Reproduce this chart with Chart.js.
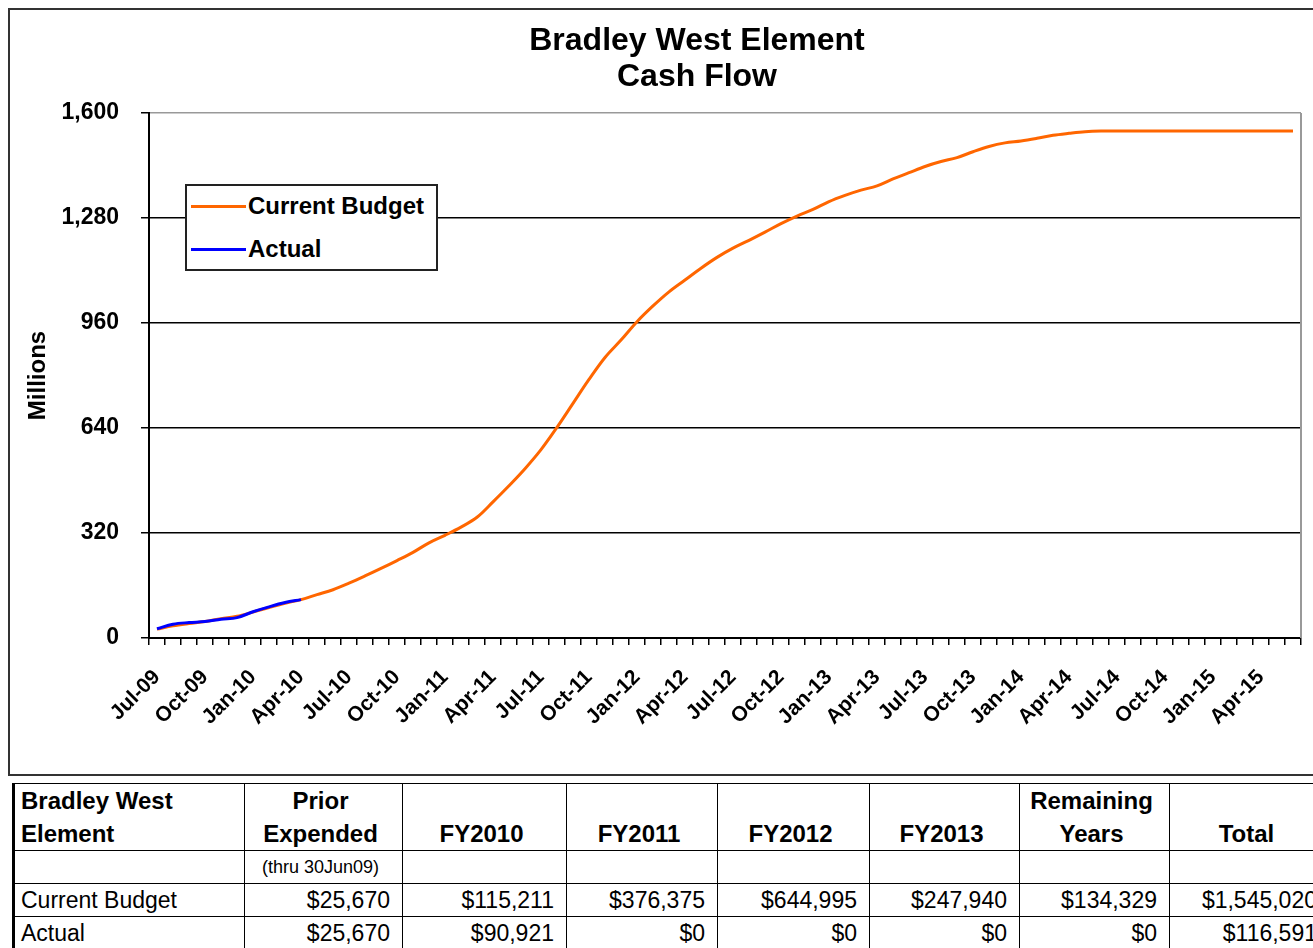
<!DOCTYPE html>
<html><head><meta charset="utf-8">
<script src="https://cdn.jsdelivr.net/npm/chart.js@4.4.0/dist/chart.umd.min.js"></script>
<style>
html,body{margin:0;padding:0;background:#fff;overflow:hidden;width:1313px;height:948px;font-family:"Liberation Sans",Arial,sans-serif;}
#frame{position:absolute;left:8px;top:8px;width:1340px;height:768px;border:2px solid #333;box-sizing:border-box;}
#wrap{position:absolute;left:0;top:0;width:1313px;height:778px;}
#legend{position:absolute;left:185px;top:184px;width:253px;height:87px;border:2px solid #222;background:#fff;box-sizing:border-box;}
.li{position:absolute;left:4px;height:30px;display:flex;align-items:center;font-weight:bold;font-size:24px;color:#000;}
.li span.sw{display:inline-block;width:55px;height:3px;margin-right:2px;}
table{position:absolute;left:12px;top:783px;border-collapse:collapse;table-layout:fixed;color:#000;}
td{border:1.5px solid #000;padding:0 12px 0 6px;font-size:23px;white-space:nowrap;overflow:hidden;}
tr.h td{height:65px;font-weight:bold;text-align:center;vertical-align:bottom;line-height:33px;padding-bottom:0;font-size:24px;}
tr.h td:first-child{text-align:left;}
tr.s td{height:32px;font-size:18px;text-align:center;}
tr.d td{height:32px;text-align:right;}
tr.d td:first-child{text-align:left;}
td:first-child{border-left:3px solid #000;}
</style></head>
<body>
<div id="frame"></div>
<div id="wrap"><canvas id="c"></canvas></div>
<div id="legend"></div>
<table id="tbl"></table>
<script>
const categories = ["Jul-09","Aug-09","Sep-09","Oct-09","Nov-09","Dec-09","Jan-10","Feb-10","Mar-10","Apr-10","May-10","Jun-10",
"Jul-10","Aug-10","Sep-10","Oct-10","Nov-10","Dec-10","Jan-11","Feb-11","Mar-11","Apr-11","May-11","Jun-11",
"Jul-11","Aug-11","Sep-11","Oct-11","Nov-11","Dec-11","Jan-12","Feb-12","Mar-12","Apr-12","May-12","Jun-12",
"Jul-12","Aug-12","Sep-12","Oct-12","Nov-12","Dec-12","Jan-13","Feb-13","Mar-13","Apr-13","May-13","Jun-13",
"Jul-13","Aug-13","Sep-13","Oct-13","Nov-13","Dec-13","Jan-14","Feb-14","Mar-14","Apr-14","May-14","Jun-14",
"Jul-14","Aug-14","Sep-14","Oct-14","Nov-14","Dec-14","Jan-15","Feb-15","Mar-15","Apr-15","May-15","Jun-15"];
const tickLabels = ["Jul-09","Oct-09","Jan-10","Apr-10","Jul-10","Oct-10","Jan-11","Apr-11","Jul-11","Oct-11","Jan-12","Apr-12",
"Jul-12","Oct-12","Jan-13","Apr-13","Jul-13","Oct-13","Jan-14","Apr-14","Jul-14","Oct-14","Jan-15","Apr-15"];
const currentBudget = [27,37,44,50,59,66,79,93,106,117,132,147,
167,189,212,236,261,290,313,338,368,415,464,516,
574,642,715,788,855,908,964,1012,1055,1091,1127,1160,
1188,1212,1237,1263,1286,1306,1330,1349,1365,1378,1399,1418,
1437,1452,1464,1482,1498,1509,1515,1523,1532,1538,1543,1545,
1545,1545,1545,1545,1545,1545,1545,1545,1545,1545,1545,1545];
const actual = [28,42,47,50,57,62,80,95,108,117];
const yTicks = [0,320,640,960,1280,1600];

const tableHeader = ["Bradley West<br>Element","Prior<br>Expended","FY2010","FY2011","FY2012","FY2013","Remaining<br>Years","Total"];
const tableSub = ["","(thru 30Jun09)","","","","","",""];
const budgetRow = ["Current Budget","$25,670","$115,211","$376,375","$644,995","$247,940","$134,329","$1,545,020"];
const actualRow = ["Actual","$25,670","$90,921","$0","$0","$0","$0","$116,591"];
const colWidths = [231,158,164,151,152,150,150,160];

const FONT = "'Liberation Sans', Arial, sans-serif";

const plotFrame = {id:'plotFrame',
  afterLayout(c){ if (c.titleBlock) { c.titleBlock.left = 2*697 - c.titleBlock.right; } },
  afterDatasetsDraw(c){
    const {ctx, chartArea:a} = c;
    ctx.save(); ctx.strokeStyle='#999'; ctx.lineWidth=2;
    ctx.beginPath(); ctx.moveTo(a.right, a.top); ctx.lineTo(a.right, a.bottom); ctx.stroke();
    ctx.restore();
  }};

const chart = new Chart(document.getElementById('c'), {
  type:'line',
  data:{labels:categories, datasets:[
    {label:'Current Budget', data:currentBudget, borderColor:'#FF6600', backgroundColor:'#FF6600', borderWidth:3, pointRadius:0, tension:0.35, order:1},
    {label:'Actual', data:actual, borderColor:'#0000FF', backgroundColor:'#0000FF', borderWidth:3, pointRadius:0, tension:0.35, order:0}
  ]},
  options:{
    responsive:true, maintainAspectRatio:false, animation:false,
    layout:{padding:{left:20,right:12,top:0,bottom:0}},
    plugins:{
      legend:{display:false}, tooltip:{enabled:false},
      title:{display:true, text:['Bradley West Element','Cash Flow'], color:'#000',
        font:{family:FONT, size:32, weight:'bold', lineHeight:1.1}, padding:{top:24,bottom:18.6}}
    },
    scales:{
      x:{offset:true,
        grid:{offset:true, drawOnChartArea:false, color:'#000', lineWidth:1.5, tickLength:7},
        border:{color:'#000', width:2},
        ticks:{autoSkip:false, maxRotation:45, minRotation:45, padding:20, color:'#000',
          font:{family:FONT, size:21, weight:'bold'},
          callback:(v,i)=> tickLabels.includes(categories[i]) ? categories[i] : ''},
        afterFit:(s)=>{ s.height = 778-638; s.paddingLeft = 0; s.paddingRight = 0; }
      },
      y:{min:0, max:1600,
        afterBuildTicks:(s)=>{ s.ticks = yTicks.map(v=>({value:v})); },
        ticks:{color:'#000', padding:22, font:{family:FONT, size:23, weight:'bold'},
          callback:(v)=> v.toLocaleString('en-US')},
        grid:{color:(c)=> c.tick && c.tick.value===1600 ? '#999' : '#000', tickColor:'#000', lineWidth:1.5, tickLength:8},
        border:{color:'#000', width:2},
        title:{display:true, text:'Millions', color:'#000', font:{family:FONT, size:24, weight:'bold'}, padding:{top:4,bottom:0}},
        afterFit:(s)=>{ s.width = 129; }
      }
    }
  },
  plugins:[plotFrame]
});

// legend built from the datasets
const lg = document.getElementById('legend');
chart.data.datasets.forEach((d,i)=>{
  const el = document.createElement('div');
  el.className='li';
  el.style.top = (5 + i*43) + 'px';
  el.innerHTML = '<span class="sw" style="background:'+d.borderColor+'"></span>' + d.label;
  lg.appendChild(el);
});

// table
const tbl = document.getElementById('tbl');
tbl.style.width = colWidths.reduce((a,b)=>a+b,0) + 'px';
const cg = document.createElement('colgroup');
colWidths.forEach(w=>{ const c=document.createElement('col'); c.style.width=w+'px'; cg.appendChild(c); });
tbl.appendChild(cg);
function addRow(cells, cls){
  const tr = document.createElement('tr'); tr.className = cls;
  cells.forEach(t=>{ const td=document.createElement('td'); td.innerHTML=t; tr.appendChild(td); });
  tbl.appendChild(tr);
}
addRow(tableHeader,'h'); addRow(tableSub,'s'); addRow(budgetRow,'d'); addRow(actualRow,'d');
</script>
</body></html>
